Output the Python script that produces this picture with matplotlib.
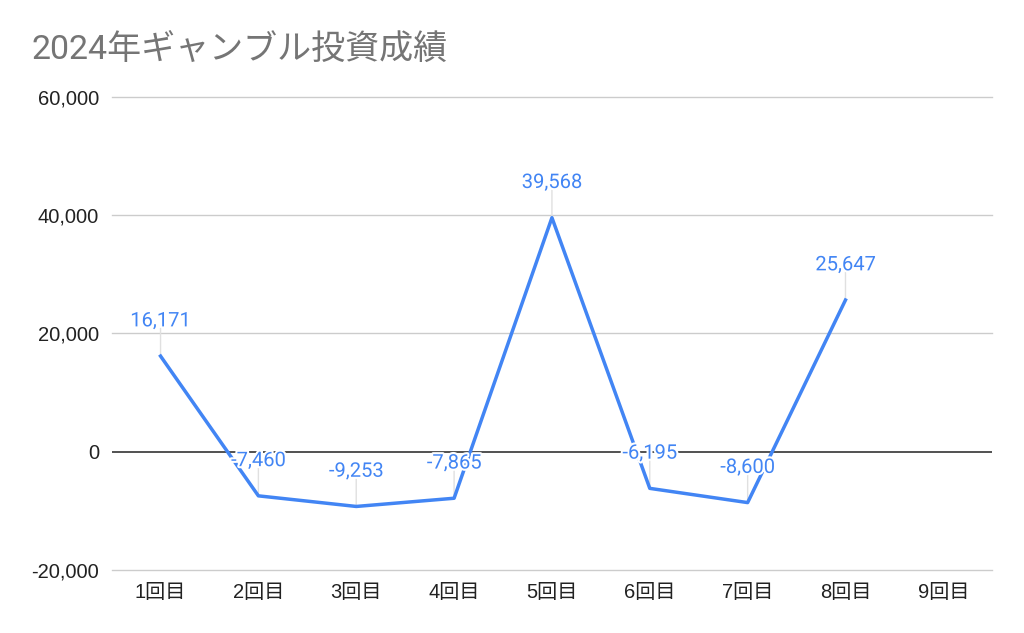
import numpy as np
import matplotlib
matplotlib.use('Agg')
import matplotlib.pyplot as plt
import matplotlib.patheffects as pe

# Chart data
rounds = ['1回目', '2回目', '3回目', '4回目', '5回目', '6回目', '7回目', '8回目', '9回目']
results = [16171, -7460, -9253, -7865, 39568, -6195, -8600, 25647, np.nan]
y_ticks = [-20000, 0, 20000, 40000, 60000]

blue = '#4285F4'
jp_fonts = ['Liberation Sans', 'Noto Sans CJK JP']

fig = plt.figure(figsize=(10.24, 6.33), dpi=100)
ax = fig.add_axes([0.109, 0.0995, 0.860, 0.7475])

x = np.arange(len(rounds))
ax.plot(x, results, color=blue, linewidth=2.5, zorder=3)

# Data labels with thin leader lines
for xi, val in zip(x, results):
    if np.isnan(val):
        continue
    ax.annotate('', xy=(xi, val), xytext=(0, 20), textcoords='offset points',
                arrowprops=dict(arrowstyle='-', color='#e0e0e0', lw=1, shrinkA=0, shrinkB=0),
                zorder=2.5)
    ax.annotate(f'{val:,.0f}', xy=(xi, val), xytext=(0, 18.5), textcoords='offset points',
                ha='center', va='bottom', color=blue, fontsize=14.5, family=['Roboto', 'DejaVu Sans'],
                path_effects=[pe.withStroke(linewidth=3, foreground='white')],
                zorder=4)

ax.set_xlim(-0.5, len(rounds) - 0.5)
ax.set_ylim(-20000, 60000)
ax.set_yticks(y_ticks)
ax.set_yticklabels([f'{t:,}' for t in y_ticks], family=jp_fonts, fontsize=14.5, color='#222222')
ax.set_xticks(x)
ax.set_xticklabels(rounds, family=jp_fonts, fontsize=14.5, color='#222222')

for t in y_ticks:
    if t != 0:
        ax.axhline(t, color='#cccccc', linewidth=1, zorder=1, clip_on=False)
ax.axhline(0, color='#333333', linewidth=1.2, zorder=2)
for s in ax.spines.values():
    s.set_visible(False)
ax.tick_params(length=0, pad=9)

fig.text(0.031, 0.922, '2024年ギャンブル投資成績', fontsize=24.5, color='#757575',
         family=['Roboto', 'Noto Sans CJK JP'], va='center', ha='left')

fig.savefig('out.png', dpi=100, facecolor='white')
